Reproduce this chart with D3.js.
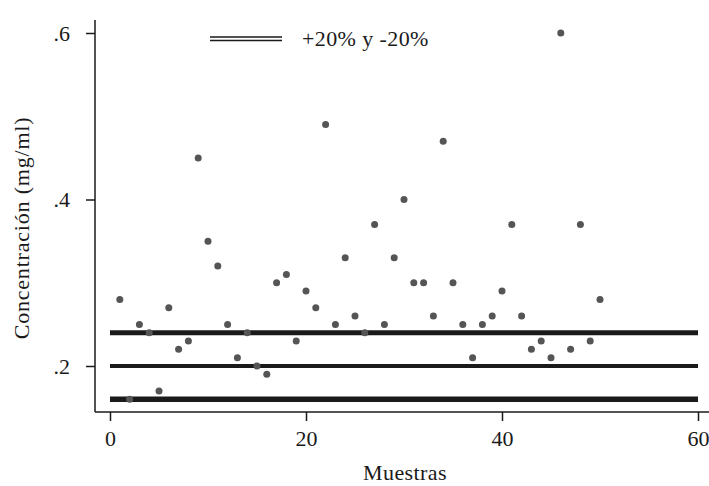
<!DOCTYPE html>
<html>
<head>
<meta charset="utf-8">
<script src="https://cdn.jsdelivr.net/npm/d3@7"></script>
<style>
    body { margin: 0; background: #fff; }
    svg text { font-family: "Liberation Serif", serif; fill: #1a1a1a; }
</style>
</head>
<body>
<div id="chart"></div>
<script>
// muestras 1..50 and measured concentration (mg/ml)
const muestras = d3.range(1, 51);
const concentracion = [
    .28, .16, .25, .24, .17, .27, .22, .23, .45, .35,
    .32, .25, .21, .24, .20, .19, .30, .31, .23, .29,
    .27, .49, .25, .33, .26, .24, .37, .25, .33, .40,
    .30, .30, .26, .47, .30, .25, .21, .25, .26, .29,
    .37, .26, .22, .23, .21, .60, .22, .37, .23, .28
];
// reference: mean 0.2, +20% and -20%
const referencias = [0.24, 0.20, 0.16];
const xTicks = [0, 20, 40, 60];
const yTicks = [0.2, 0.4, 0.6];
const legendLabel = "+20% y -20%";

const width = 709, height = 486;

let svg = d3.select("#chart")
    .append("svg")
    .attr("width", width)
    .attr("height", height);

////////////
/// Axes ///
////////////

let x = d3.scaleLinear().domain([0, 60]).range([110, 698]);
let y = d3.scaleLinear().domain([0.2, 0.6]).range([366, 33]);

const axisX = 95, axisY = 412;
const ink = "#1a1a1a";

let yAxis = svg.append("g")
    .attr("transform", "translate(" + axisX + ",0)")
    .call(d3.axisLeft(y)
        .tickValues(yTicks)
        .tickSize(9)
        .tickPadding(16)
        .tickFormat(d => d3.format(".1f")(d).replace(/^0/, "")));
yAxis.select(".domain").remove();

let xAxis = svg.append("g")
    .attr("transform", "translate(0," + axisY + ")")
    .call(d3.axisBottom(x)
        .tickValues(xTicks)
        .tickSize(9)
        .tickPadding(9));
xAxis.select(".domain").remove();

svg.selectAll(".tick line").attr("stroke", ink).attr("stroke-width", 1.5);
svg.selectAll(".tick text")
    .attr("font-size", "22px")
    .attr("fill", ink);

// axis lines
svg.append("line")
    .attr("x1", axisX).attr("x2", axisX)
    .attr("y1", 20).attr("y2", axisY)
    .attr("stroke", ink).attr("stroke-width", 1.5);
svg.append("line")
    .attr("x1", axisX).attr("x2", 709)
    .attr("y1", axisY).attr("y2", axisY)
    .attr("stroke", ink).attr("stroke-width", 1.5);

//////////////
/// Labels ///
//////////////

svg.append("text")
    .attr("text-anchor", "middle")
    .attr("font-size", "22px")
    .attr("letter-spacing", "0.4px")
    .attr("x", 405)
    .attr("y", 480)
    .text("Muestras");

svg.append("text")
    .attr("text-anchor", "middle")
    .attr("font-size", "22px")
    .attr("letter-spacing", "0.8px")
    .attr("transform", "translate(29,228) rotate(-90)")
    .text("Concentración (mg/ml)");

//////////////////
/// Ref lines  ///
//////////////////

const refWidths = [5, 4, 5.5];

svg.selectAll("line.ref")
    .data(referencias)
    .enter()
    .append("line")
    .attr("class", "ref")
    .attr("x1", x(0))
    .attr("x2", x(60))
    .attr("y1", d => y(d))
    .attr("y2", d => y(d))
    .attr("stroke", ink)
    .attr("stroke-width", (d, i) => refWidths[i]);

//////////////
/// Points ///
//////////////

svg.selectAll("circle.pt")
    .data(muestras)
    .enter()
    .append("circle")
    .attr("class", "pt")
    .attr("cx", d => x(d))
    .attr("cy", (d, i) => y(concentracion[i]))
    .attr("r", 3.5)
    .attr("fill", "#555");

//////////////
/// Legend ///
//////////////

let legend = svg.append("g");
[37, 40.5].forEach(ly => {
    legend.append("line")
        .attr("x1", 210).attr("x2", 282)
        .attr("y1", ly).attr("y2", ly)
        .attr("stroke", ink)
        .attr("stroke-width", 1.3);
});
legend.append("text")
    .attr("x", 302)
    .attr("y", 46)
    .attr("font-size", "22px")
    .attr("letter-spacing", "0.4px")
    .text(legendLabel);
</script>
</body>
</html>
